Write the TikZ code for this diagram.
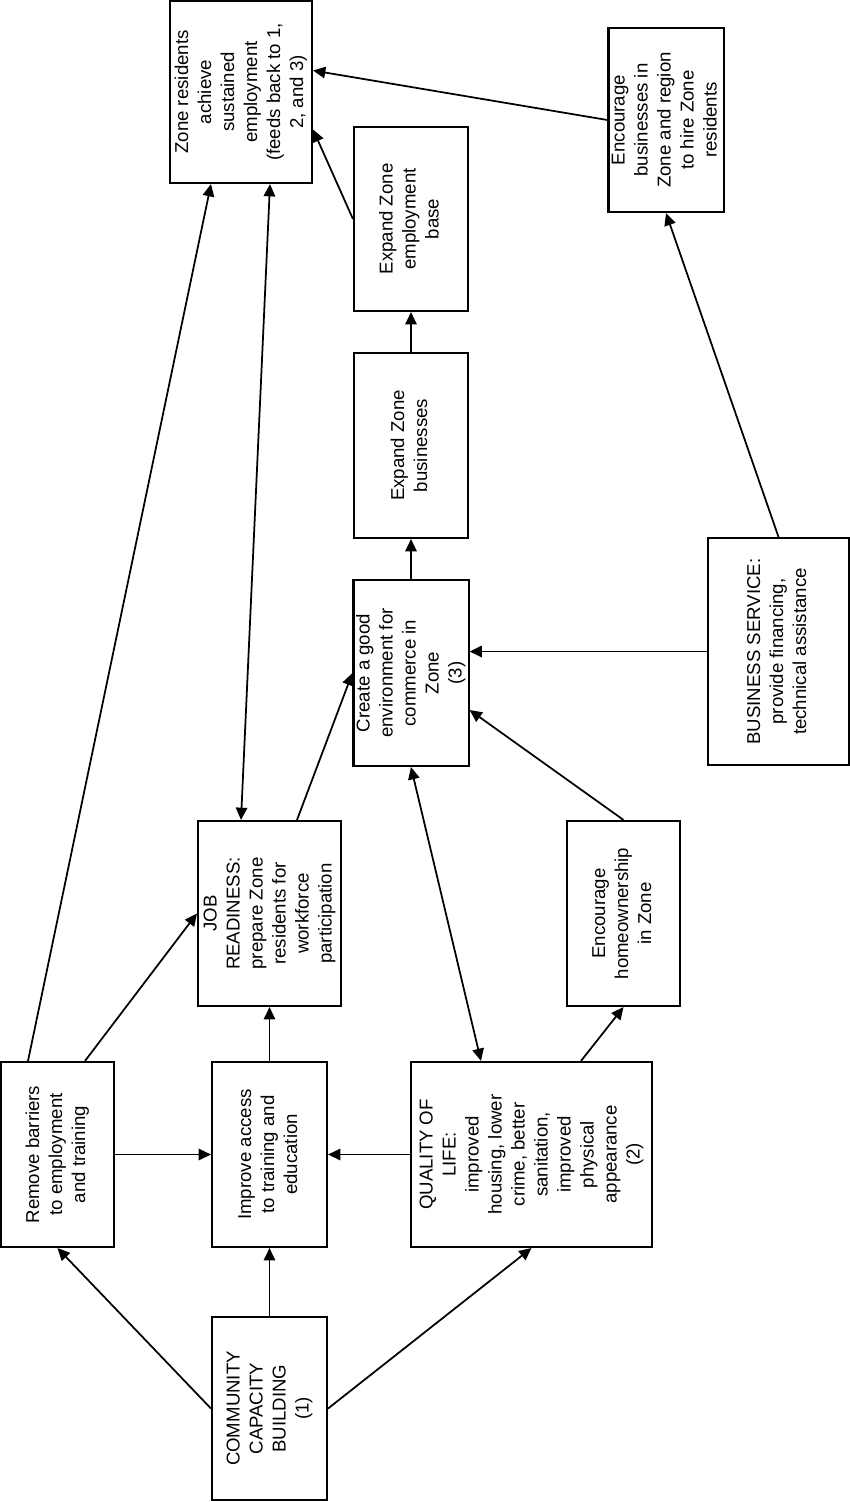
\documentclass[tikz,border=0pt]{standalone}
\usepackage{fontspec}
\setmainfont{Liberation Sans}
\usepackage{graphicx}
\usetikzlibrary{arrows.meta}

\newcommand{\vtext}[1]{\rotatebox{90}{\begin{tabular}{@{}c@{}}#1\end{tabular}}}

\begin{document}
\begin{tikzpicture}[line width=1pt,
  box/.style={shape=rectangle, draw=black, line width=1.2pt, inner sep=0pt, font=\fontsize{10.6}{13.1}\selectfont},
  arr/.style={-{Triangle[length=7pt,width=6.5pt]}},
  darr/.style={{Triangle[length=7pt,width=6.5pt]}-{Triangle[length=7pt,width=6.5pt]}}]
%%%%%%%%%%%%%%%%%%%%%%%%%%%%%%%%%%%%%%%%%%% HELP LINES
%\draw[help lines] (0,0) grid +(17,-30);
\useasboundingbox (0,0) rectangle (17,-30.04);

%%%%%%%%%%%%%%%%%%%%%%%%%%%%%%%%%%%%%%%%%%% top row
\node[box, minimum width=2.84cm, minimum height=3.64cm](zone) at (4.82,-1.84){\vtext{Zone residents\\achieve\\sustained\\employment\\(feeds back to 1,\\2, and 3)}};
\node[box, minimum width=2.28cm, minimum height=3.68cm](encbiz) at (13.32,-2.40){\vtext{Encourage\\businesses in\\Zone and region\\to hire Zone\\residents}};
\node[box, minimum width=2.28cm, minimum height=3.68cm](empbase) at (8.22,-4.38){\vtext{Expand Zone\\employment\\base}};
\node[box, minimum width=2.28cm, minimum height=3.70cm](expbiz) at (8.22,-8.91){\vtext{Expand Zone\\businesses}};

%%%%% commerce and business service
\node[box, minimum width=2.28cm, minimum height=3.72cm](env) at (8.22,-13.46){\vtext{Create a good\\environment for\\commerce in\\Zone\\(3)}};
\node[box, minimum width=2.82cm, minimum height=4.54cm](bizserv) at (15.57,-13.03){\vtext{BUSINESS SERVICE:\\provide financing,\\technical assistance}};

%%%%% job readiness and homeownership
\node[box, minimum width=2.86cm, minimum height=3.70cm](job) at (5.39,-18.27){\vtext{JOB\\READINESS:\\prepare Zone\\residents for\\workforce\\participation}};
\node[box, minimum width=2.26cm, minimum height=3.70cm](home) at (12.47,-18.27){\vtext{Encourage\\homeownership\\in Zone}};

%%%%% bottom rows
\node[box, minimum width=2.26cm, minimum height=3.70cm](barrier) at (1.15,-23.09){\vtext{Remove barriers\\to employment\\and training}};
\node[box, minimum width=2.30cm, minimum height=3.70cm](access) at (5.39,-23.09){\vtext{Improve access\\to training and\\education}};
\node[box, minimum width=4.82cm, minimum height=3.70cm](quality) at (10.63,-23.09){\vtext{QUALITY OF\\LIFE:\\improved\\housing, lower\\crime, better\\sanitation,\\improved\\physical\\appearance\\(2)}};
\node[box, minimum width=2.30cm, minimum height=3.66cm](ccb) at (5.39,-28.17){\vtext{COMMUNITY\\CAPACITY\\BUILDING\\(1)}};

%%%%%%%%%%%%%%%%%%%%%%%%%%%%%%%%%%%%%%%%%%% arrows
\draw[arr] (ccb.west) -- (barrier.south);
\draw[arr] (ccb.north) -- (access.south);
\draw[arr] (ccb.east) -- (quality.south);
\draw[arr] (barrier.east) -- (access.west);
\draw[arr] (quality.west) -- (access.east);
\draw[arr] ([xshift=0.55cm]barrier.north) -- (job.west);
\draw[arr] ([xshift=-0.59cm]barrier.north) -- ([xshift=-0.6cm]zone.south);
\draw[arr] (access.north) -- (job.south);
\draw[darr] ([xshift=-0.57cm]job.north) -- ([xshift=0.58cm]zone.south);
\draw[arr] ([xshift=0.55cm]job.north) -- (env.west);
\draw[darr] ([xshift=-1.01cm]quality.north) -- (env.south);
\draw[arr] ([xshift=0.99cm]quality.north) -- (home.south);
\draw[arr] (home.north) -- ([yshift=-0.74cm]env.east);
\draw[arr] (bizserv.west) -- (bizserv.west -| env.east);
\draw[arr] (env.north) -- (expbiz.south);
\draw[arr] (expbiz.north) -- (empbase.south);
\draw[arr] (empbase.west) -- ([yshift=-0.75cm]zone.east);
\draw[arr] (bizserv.north) -- (encbiz.south);
\draw[arr] (encbiz.west) -- ([yshift=0.43cm]zone.east);
\end{tikzpicture}
\end{document}
